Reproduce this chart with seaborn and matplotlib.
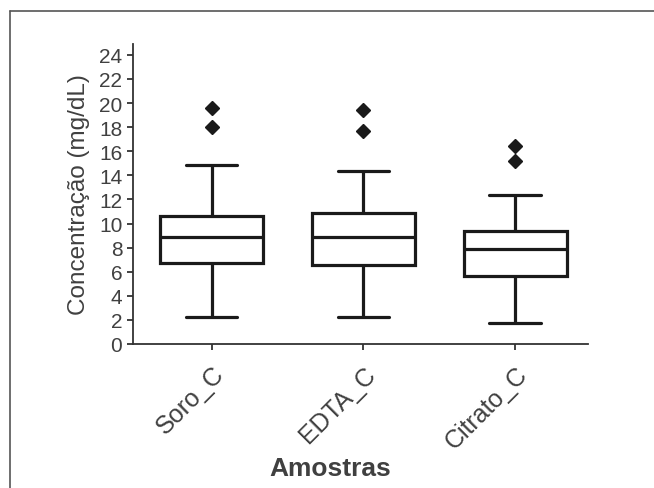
import numpy as np
import pandas as pd
import seaborn as sns
import matplotlib
matplotlib.use("Agg")
import matplotlib.pyplot as plt
from matplotlib.lines import Line2D

# ---- data (mg/dL) ----
categories = ["Soro_C", "EDTA_C", "Citrato_C"]
whisker_low = [2.2, 2.2, 1.75]
q1 = [6.75, 6.55, 5.65]
median = [8.9, 8.9, 7.85]
q3 = [10.65, 10.85, 9.4]
whisker_high = [14.85, 14.35, 12.4]
outliers = [[18.05, 19.6], [17.7, 19.45], [15.2, 16.45]]
yticks = list(range(0, 25, 2))

# Build a small sample per group that reproduces the read summary statistics
rows = []
for i, cat in enumerate(categories):
    vals = ([whisker_low[i]] + [q1[i]] * 3 + [median[i]] * 3 + [q3[i]] * 3
            + [whisker_high[i]] + list(outliers[i]))
    rows += [(cat, v) for v in vals]
df = pd.DataFrame(rows, columns=["Amostras", "Concentração (mg/dL)"])

sns.set_style("ticks")
plt.rcParams["font.family"] = ["Liberation Sans", "DejaVu Sans"]

fig = plt.figure(figsize=(6.54, 4.89), dpi=100)
ax = fig.add_axes([0.203, 0.2945, 0.696, 0.6135])

dark = "#1a1a1a"
txt = "#404040"
sns.boxplot(data=df, x="Amostras", y="Concentração (mg/dL)", order=categories,
            ax=ax, color="white", linecolor=dark, linewidth=2.3, width=0.68,
            whis=1.5,
            flierprops=dict(marker="D", markersize=7, markerfacecolor=dark,
                            markeredgecolor=dark))

ax.set_xlim(-0.52, 2.48)
ax.set_ylim(0, 24.9)
ax.set_yticks(yticks)
ax.set_yticklabels([str(t) for t in yticks])
for s in ["top", "right"]:
    ax.spines[s].set_visible(False)
for s in ["left", "bottom"]:
    ax.spines[s].set_linewidth(1.3)
    ax.spines[s].set_color("#333333")
ax.tick_params(axis="both", colors="#333333", width=1.3, length=4.5,
               labelcolor=txt)
ax.tick_params(axis="y", labelsize=15, pad=3)
ax.tick_params(axis="x", labelsize=18, pad=8)
for lab in ax.get_xticklabels():
    lab.set_rotation(45)
    lab.set_ha("right")
    lab.set_rotation_mode("anchor")

ax.set_xlabel("Amostras", fontsize=19, fontweight="bold", color=txt)
ax.set_ylabel("Concentração (mg/dL)", fontsize=17.5, color=txt)
ax.xaxis.set_label_coords(0.433, -0.375)
ax.yaxis.set_label_coords(-0.095, 0.5)

# outer frame (left and top lines of the original figure panel)
fig.add_artist(Line2D([10 / 654, 10 / 654], [0, 1 - 12 / 489],
                      transform=fig.transFigure, color="#555555", lw=1.2))
fig.add_artist(Line2D([10 / 654, 1], [1 - 12 / 489, 1 - 12 / 489],
                      transform=fig.transFigure, color="#555555", lw=1.2))

fig.savefig("out.png", dpi=100, facecolor="white")
